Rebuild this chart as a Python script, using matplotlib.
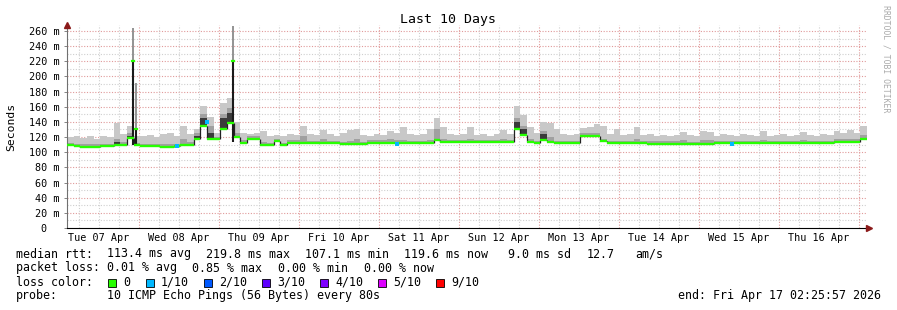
import numpy as np
import matplotlib
matplotlib.use("Agg")
import matplotlib.pyplot as plt

# ---- data (2 hour buckets, 10 days) ----
median_ms = [
    109, 108.5, 107.5, 107.5, 107.5, 108, 108, 110, 110, 119,
    109, 108.5, 108.5, 108.5, 107.5, 107.3, 108.5, 109.5, 110, 117,
    135, 117, 117, 130, 138, 120, 112.5, 118, 118, 110,
    109.5, 115, 109.5, 112.5, 112.5, 112.5, 112, 112, 112, 112,
    112, 111, 111, 111, 111, 112.5, 112.5, 112.5, 112.5, 112.5,
    112, 112, 112, 112, 112, 116, 113, 113, 113, 113,
    113, 113, 113, 113, 113, 113, 113, 130, 123, 114,
    112, 116, 114, 112, 112, 112, 112, 121, 121.4, 121.4,
    115, 112, 112, 112, 112, 112, 112, 111.5, 111.5, 111.5,
    111.5, 111.5, 111.5, 111, 111, 111, 111, 112, 112, 112,
    112, 112, 112, 112, 112, 112, 112, 112, 112, 112,
    112, 112, 112, 112, 112, 114, 114, 114, 114, 118,
]
smoke_hi_ms = [
    120, 121, 119, 121, 118, 122, 120, 138, 124, 134,
    122, 121, 123, 120, 124, 125, 122, 134, 124, 130,
    161, 147, 126, 165, 172, 140, 126, 124, 125, 128,
    121, 123, 122, 124, 123, 135, 124, 123, 129, 124,
    122, 125, 129, 130, 123, 122, 124, 123, 128, 125,
    133, 124, 123, 124, 130, 145, 133, 124, 123, 124,
    133, 123, 124, 122, 124, 129, 124, 161, 149, 133,
    126, 140, 138, 130, 124, 123, 124, 132, 133, 137,
    134, 124, 130, 123, 124, 133, 123, 124, 122, 123,
    122, 123, 127, 123, 122, 128, 127, 122, 124, 123,
    122, 124, 123, 122, 128, 122, 123, 124, 122, 123,
    127, 123, 122, 124, 123, 128, 126, 129, 126, 134,
]
smoke_mid_ms = [
    112, 111.5, 110.5, 110.5, 110.5, 111, 111, 118, 113, 125,
    112, 111.5, 111.5, 111.5, 110.5, 110.5, 111.5, 118, 113, 125,
    150, 135, 120, 150, 158, 125, 115.5, 121, 121, 113,
    112.5, 118, 112.5, 115.5, 115.5, 122, 115, 115, 117, 115,
    115, 114, 115, 117, 114, 115.5, 115.5, 115.5, 117, 115.5,
    116, 115, 115, 115, 116, 130, 117, 116, 116, 116,
    117, 116, 116, 116, 116, 117, 116, 145, 135, 118,
    115, 128, 120, 115, 115, 115, 115, 125, 126, 126,
    118, 115, 115, 115, 115, 117, 115, 114.5, 114.5, 114.5,
    114.5, 114.5, 115.5, 114, 114, 115.5, 115.5, 115, 115, 115,
    115, 115, 115, 115, 116, 115, 115, 115, 115, 115,
    116, 115, 115, 115, 115, 117, 117, 118, 118, 123,
]
smoke_dark_ms = [
    109, 108.5, 107.5, 107.5, 107.5, 108, 108, 113, 110, 122,
    109, 108.5, 108.5, 108.5, 107.5, 107.3, 108.5, 109.5, 110, 122,
    145, 125, 117, 145, 152, 120, 112.5, 118, 118, 110,
    109.5, 115, 109.5, 112.5, 112.5, 112.5, 112, 112, 112, 112,
    112, 111, 111, 111, 111, 112.5, 112.5, 112.5, 112.5, 112.5,
    112, 112, 112, 112, 112, 116, 113, 113, 113, 113,
    113, 113, 113, 113, 113, 113, 113, 140, 130, 114,
    112, 124, 114, 112, 112, 112, 112, 121, 121.4, 121.4,
    115, 112, 112, 112, 112, 112, 112, 111.5, 111.5, 111.5,
    111.5, 111.5, 111.5, 111, 111, 111, 111, 112, 112, 112,
    112, 112, 112, 112, 112, 112, 112, 112, 112, 112,
    112, 112, 112, 112, 112, 114, 114, 114, 114, 118,
]

# narrow spikes (hours from start)
spike_hours = [19.65, 20.7, 49.8]
spike_base_ms = [110, 109, 113]
spike_median_ms = [220, 130, 220]
spike_top_ms = [264, 191, 266]

# samples with 1/10 loss
loss_hours = [33.0, 42.0, 99.0, 199.6]
loss_ms = [108.5, 140, 111.5, 111]

day_labels = ["Tue 07 Apr", "Wed 08 Apr", "Thu 09 Apr", "Fri 10 Apr", "Sat 11 Apr",
              "Sun 12 Apr", "Mon 13 Apr", "Tue 14 Apr", "Wed 15 Apr", "Thu 16 Apr"]
first_midnight_h = 21.5675   # start is 02:25:57

legend_rtt = [("113.4 ms avg", 107), ("219.8 ms max", 206), ("107.1 ms min", 305),
              ("119.6 ms now", 404), ("9.0 ms sd", 508), ("12.7", 587), ("am/s", 635)]
legend_loss = [("0.01 % avg", 107), ("0.85 % max", 192), ("0.00 % min", 278), ("0.00 % now", 364)]
loss_names = ["0", "1/10", "2/10", "3/10", "4/10", "5/10", "9/10"]
loss_colors = ["#26ff00", "#00b8ff", "#0059ff", "#5e00ff", "#7e00ff", "#dd00ff", "#ff0000"]
loss_swatch_x = [108, 146, 204, 262, 320, 378, 436]

W, H = 897, 310
MONO = "DejaVu Sans Mono"

fig = plt.figure(figsize=(W / 100, H / 100), dpi=100)
ax = fig.add_axes([67 / W, 82 / H, 800 / W, 203.1 / H])
ax.set_xlim(0, 240)
ax.set_ylim(0, 268)

# grid
for v in range(10, 261, 10):
    major = v % 20 == 0
    ax.axhline(v, color="#e09a9a" if major else "#cfcfcf", lw=0.8,
               ls=(0, (1, 1.5)), zorder=0)
k = first_midnight_h - 24
while k < 240:
    for j in range(4):
        t = k + 6 * j
        if 0 < t < 240:
            ax.axvline(t, color="#e09a9a" if j == 0 else "#cfcfcf", lw=0.8,
                       ls=(0, (1, 1.5)), zorder=0)
    k += 24

# smoke + median
hours = np.arange(0, 240, 2)
xe = np.append(hours, 240)
def ext(a):
    return np.append(a, a[-1])
med = ext(median_ms)
ax.fill_between(xe, med, ext(smoke_hi_ms), step="post", color="#c8c8c8", lw=0, zorder=1)
ax.fill_between(xe, med, ext(smoke_mid_ms), step="post", color="#a0a0a0", lw=0, zorder=2)
ax.fill_between(xe, med, ext(smoke_dark_ms), step="post", color="#3a3a3a", lw=0, zorder=3)

for t, b, m, top in zip(spike_hours, spike_base_ms, spike_median_ms, spike_top_ms):
    ax.vlines(t, m, top, color="#8a8a8a", lw=1.3, zorder=3)
    ax.vlines(t, b, m, color="#1a1a1a", lw=1.5, zorder=4)
    ax.plot([t - 0.3, t + 0.3], [m, m], color="#26ff00", lw=1.6, zorder=5)

# median: green levels, dark joins between buckets
ax.vlines(hours[1:], median_ms[:-1], median_ms[1:], color="#222222", lw=0.9, zorder=4)
ax.hlines(median_ms, hours, hours + 2, color="#26ff00", lw=1.7, zorder=5)
ax.plot(loss_hours, loss_ms, ls="none", marker="s", ms=2.2, mew=0,
        color="#00b8ff", zorder=6)

# axes styling
for s in ("top", "right"):
    ax.spines[s].set_visible(False)
ax.spines["left"].set_color("#707070")
ax.spines["bottom"].set_color("#000000")
ax.spines["left"].set_linewidth(0.8)
ax.spines["bottom"].set_linewidth(0.8)

yt = list(range(0, 261, 20))
ax.set_yticks(yt, ["0  "] + [f"{v} m" for v in yt[1:]], fontfamily=MONO, fontsize=7.3)
ax.tick_params(axis="y", length=2, width=0.6, color="#707070", pad=3.6)
noon = [first_midnight_h - 12 + 24 * i for i in range(10)]
ax.set_xticks(noon, day_labels, fontfamily=MONO, fontsize=7.3)
ax.tick_params(axis="x", length=0, pad=3.4)

# arrows
ax.plot([0], [1], transform=ax.transAxes, marker="^", ms=4, color="#8b1a1a",
        clip_on=False, zorder=7)
ax.plot([1.003], [0], transform=ax.transAxes, marker=">", ms=4, color="#8b1a1a",
        clip_on=False, zorder=7)

def txt(x, y, s, **kw):
    kw.setdefault("fontfamily", MONO)
    kw.setdefault("fontsize", 8.4)
    kw.setdefault("va", "center")
    fig.text(x / W, 1 - y / H, s, **kw)

txt(448, 19, "Last 10 Days", fontsize=9.5, ha="center")
txt(11, 127, "Seconds", rotation=90, ha="center", fontsize=8.2)
txt(886, 59, "RRDTOOL / TOBI OETIKER", rotation=-90, ha="center", fontsize=5.9,
    color="#aaaaaa")

txt(16, 254, "median rtt:")
for s, x in legend_rtt:
    txt(x, 254, s)
txt(16, 268, "packet loss:")
for s, x in legend_loss:
    txt(x, 268, s)
txt(16, 282, "loss color:")
for name, col, x in zip(loss_names, loss_colors, loss_swatch_x):
    fig.patches.append(plt.Rectangle((x / W, 1 - 287 / H), 8 / W, 8 / H,
                                     transform=fig.transFigure, facecolor=col,
                                     edgecolor="black", lw=0.6))
    txt(x + 15, 282, name)
txt(16, 296, "probe:")
txt(107, 296, "10 ICMP Echo Pings (56 Bytes) every 80s")
txt(881, 296, "end: Fri Apr 17 02:25:57 2026", ha="right")

fig.savefig("out.png", dpi=100)
